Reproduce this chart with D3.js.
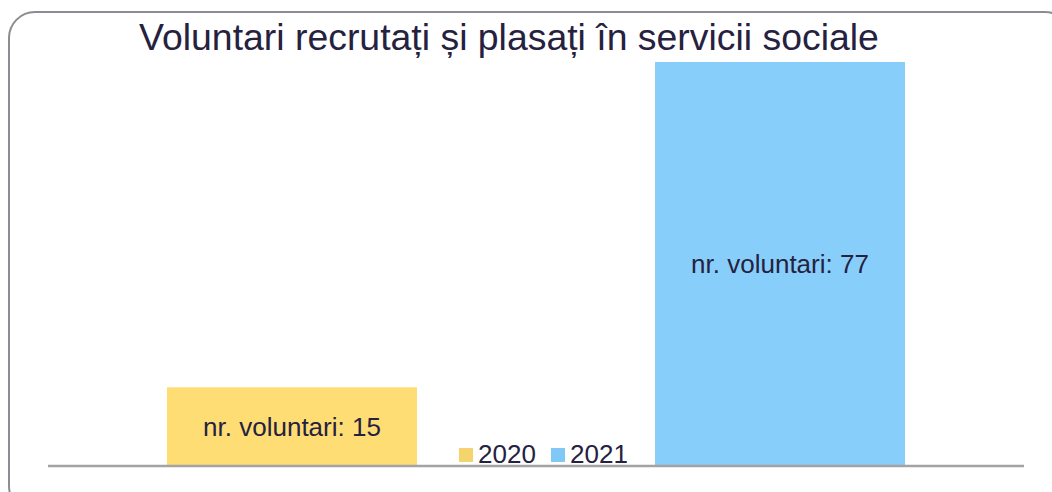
<!DOCTYPE html>
<html>
<head>
<meta charset="utf-8">
<script src="https://cdn.jsdelivr.net/npm/d3@7"></script>
<style>
  body { margin: 0; background: #fff; }
  svg { display: block; font-family: "Liberation Sans", Arial, sans-serif; }
</style>
</head>
<body>
<div id="chart"></div>
<script>
var years = ["2020", "2021"];
var volunteers = [15, 77];
var labelPrefix = "nr. voluntari: ";
var titleText = "Voluntari recrutați și plasați în servicii sociale";

var width = 1052, height = 492;
var textColor = "#25213f";
var barColors = ["#fedd75", "#87cefa"];
var legendColors = ["#f5d46d", "#80c8f6"];

var svg = d3.select("#chart")
  .append("svg")
    .attr("width", width)
    .attr("height", height);

// rounded frame, runs off the right and bottom edges
svg.append("rect")
  .attr("x", 9)
  .attr("y", 12)
  .attr("width", 1062)
  .attr("height", 500)
  .attr("rx", 26)
  .attr("fill", "none")
  .attr("stroke", "#8c8c92")
  .attr("stroke-width", 2);

var x = d3.scaleBand()
  .domain(years)
  .range([48, 1024])
  .paddingInner(0.4877)
  .paddingOuter(0.2438);

var y = d3.scaleLinear()
  .domain([0, 77])
  .range([466, 62]);

var data = years.map(function(d, i) { return {year: d, value: volunteers[i], i: i}; });

svg.selectAll("rect.bar")
  .data(data)
  .enter()
  .append("rect")
    .attr("class", "bar")
    .attr("x", function(d) { return x(d.year); })
    .attr("y", function(d) { return y(d.value); })
    .attr("width", x.bandwidth())
    .attr("height", function(d) { return y(0) - y(d.value); })
    .attr("fill", function(d) { return barColors[d.i]; });

svg.selectAll("text.lbl")
  .data(data)
  .enter()
  .append("text")
    .attr("class", "lbl")
    .attr("x", function(d) { return x(d.year) + x.bandwidth() / 2; })
    .attr("y", function(d) { return (y(d.value) + y(0)) / 2 + 9; })
    .attr("text-anchor", "middle")
    .attr("font-size", 26)
    .attr("fill", textColor)
    .text(function(d) { return labelPrefix + d.value; });

// baseline axis
svg.append("line")
  .attr("x1", 48)
  .attr("x2", 1024)
  .attr("y1", y(0))
  .attr("y2", y(0))
  .attr("stroke", "#a3a3a6")
  .attr("stroke-width", 2.5);

// legend
var legendX = [459, 551];
var legend = svg.selectAll("g.legend")
  .data(data)
  .enter()
  .append("g")
    .attr("class", "legend")
    .attr("transform", function(d) { return "translate(" + legendX[d.i] + ",448)"; });

legend.append("rect")
  .attr("width", 14)
  .attr("height", 14)
  .attr("fill", function(d) { return legendColors[d.i]; });

legend.append("text")
  .attr("x", 19)
  .attr("y", 15)
  .attr("font-size", 26)
  .attr("fill", textColor)
  .text(function(d) { return d.year; });

svg.append("text")
  .attr("x", 509)
  .attr("y", 50)
  .attr("text-anchor", "middle")
  .attr("font-size", 37.4)
  .attr("fill", textColor)
  .text(titleText);
</script>
</body>
</html>
